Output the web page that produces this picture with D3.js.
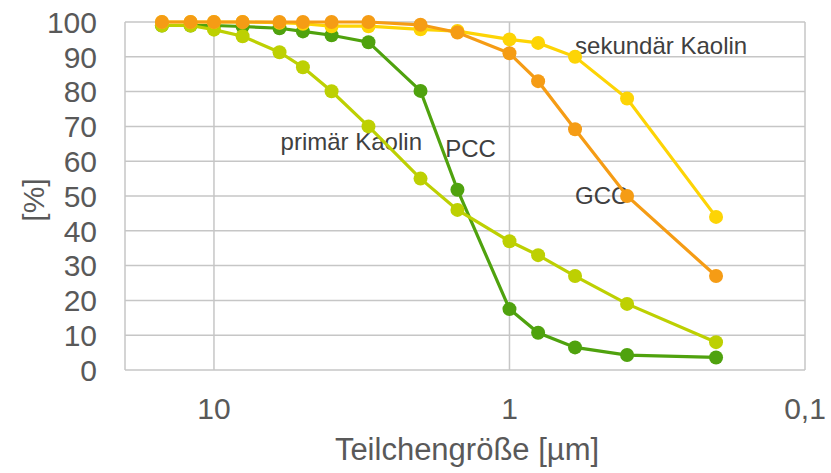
<!DOCTYPE html>
<html>
<head>
<meta charset="utf-8">
<script src="https://cdn.jsdelivr.net/npm/d3@7"></script>
<style>
  body { margin: 0; background: #fff; }
  text { font-family: "Liberation Sans", Arial, sans-serif; }
</style>
</head>
<body>
<div id="chart"></div>
<script>
const w = 831;
const h = 473;
const margin = {top: 22, right: 26, bottom: 103, left: 125};

// particle size in µm (x axis, log, reversed)
const sizes = [15, 12, 10, 8, 6, 5, 4, 3, 2, 1.5, 1, 0.8, 0.6, 0.4, 0.2];
// cumulative percentage per material
const pcc       = [99, 99, 99, 98.7, 98.2, 97.3, 96.2, 94.2, 80.2, 51.8, 17.5, 10.7, 6.5, 4.3, 3.6];
const primaer   = [99, 99, 97.8, 95.9, 91.3, 87, 80.1, 70, 55, 46, 37, 33, 27, 19, 8];
const sekundaer = [100, 100, 100, 100, 99.8, 99.5, 98.8, 98.8, 97.9, 97.4, 95, 94, 90, 78, 44];
const gcc       = [100, 100, 100, 100, 100, 100, 100, 100, 99.2, 97, 91, 83, 69.2, 50, 27];

const xTicks = [10, 1, 0.1];
const xTickLabels = ["10", "1", "0,1"];
const yTicks = [0, 10, 20, 30, 40, 50, 60, 70, 80, 90, 100];

// drawn bottom to top, like the original
const series = [
  {name: "PCC", values: pcc, color: "#4fa20e"},
  {name: "primär Kaolin", values: primaer, color: "#bdd002"},
  {name: "sekundär Kaolin", values: sekundaer, color: "#fdd405"},
  {name: "GCC", values: gcc, color: "#f59c15"}
];

// text labels inside the plot: [text, size, percent]
const labels = [
  ["primär Kaolin", 5.95, 63.2],
  ["PCC", 1.65, 61.2],
  ["sekundär Kaolin", 0.6, 90.7],
  ["GCC", 0.6, 47.6]
];

const innerW = w - margin.left - margin.right;
const innerH = h - margin.top - margin.bottom;

const svg = d3.select("#chart")
  .append("svg")
  .attr("width", w)
  .attr("height", h);

const x = d3.scaleLog().domain([20, 0.1]).range([margin.left, margin.left + innerW]);
const y = d3.scaleLinear().domain([0, 100]).range([margin.top + innerH, margin.top]);

const grid = svg.append("g").attr("stroke", "#c6c6c6").attr("stroke-width", 1.5);
// horizontal gridlines
grid.selectAll(".hg")
  .data(yTicks)
  .enter().append("line")
  .attr("x1", margin.left).attr("x2", margin.left + innerW)
  .attr("y1", d => y(d)).attr("y2", d => y(d));
// vertical gridlines
grid.selectAll(".vg")
  .data(xTicks)
  .enter().append("line")
  .attr("x1", d => x(d)).attr("x2", d => x(d))
  .attr("y1", margin.top).attr("y2", margin.top + innerH);
// left border
grid.append("line")
  .attr("x1", margin.left).attr("x2", margin.left)
  .attr("y1", margin.top).attr("y2", margin.top + innerH);

// y tick labels
svg.append("g").selectAll("text")
  .data(yTicks)
  .enter().append("text")
  .attr("x", 97)
  .attr("y", d => y(d))
  .attr("dy", "0.36em")
  .attr("text-anchor", "end")
  .attr("font-size", 30)
  .attr("fill", "#595959")
  .text(d => d);

// x tick labels
svg.append("g").selectAll("text")
  .data(xTicks)
  .enter().append("text")
  .attr("x", d => x(d))
  .attr("y", 419)
  .attr("text-anchor", "middle")
  .attr("font-size", 30)
  .attr("fill", "#595959")
  .text((d, i) => xTickLabels[i]);

// axis titles
svg.append("text")
  .attr("x", 467)
  .attr("y", 460)
  .attr("text-anchor", "middle")
  .attr("font-size", 31)
  .attr("fill", "#595959")
  .text("Teilchengröße [µm]");

svg.append("text")
  .attr("transform", "translate(44,200) rotate(-90)")
  .attr("text-anchor", "middle")
  .attr("font-size", 30)
  .attr("fill", "#595959")
  .text("[%]");

// annotation labels (under the series)
svg.append("g").selectAll("text")
  .data(labels)
  .enter().append("text")
  .attr("x", d => x(d[1]))
  .attr("y", d => y(d[2]))
  .attr("font-size", 24)
  .attr("fill", "#404040")
  .text(d => d[0]);

const line = d3.line()
  .x((d, i) => x(sizes[i]))
  .y(d => y(d));

const sg = svg.selectAll(".series")
  .data(series)
  .enter().append("g")
  .attr("class", "series");

sg.append("path")
  .attr("d", d => line(d.values))
  .attr("fill", "none")
  .attr("stroke", d => d.color)
  .attr("stroke-width", 3.2);

sg.selectAll("circle")
  .data(d => d.values.map((v, i) => ({v, i, color: d.color})))
  .enter().append("circle")
  .attr("cx", d => x(sizes[d.i]))
  .attr("cy", d => y(d.v))
  .attr("r", 7)
  .attr("fill", d => d.color);
</script>
</body>
</html>
